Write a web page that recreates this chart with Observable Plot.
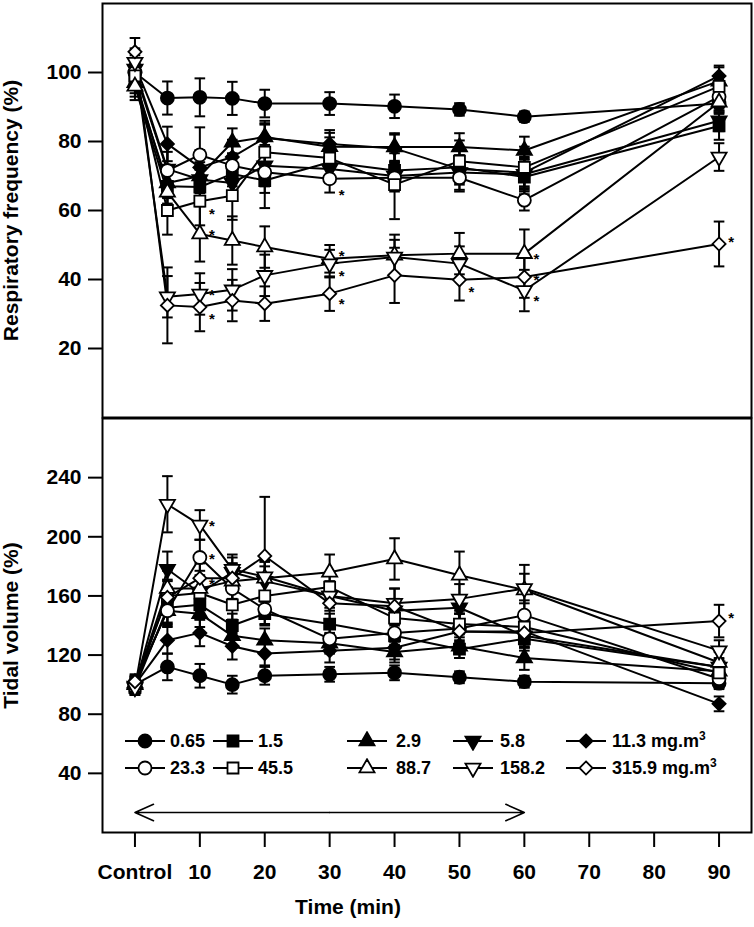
<!DOCTYPE html>
<html>
<head>
<meta charset="utf-8">
<script src="https://cdn.jsdelivr.net/npm/d3@7"></script>
<script src="https://cdn.jsdelivr.net/npm/@observablehq/plot@0.6"></script>
<style>
  body { margin: 0; background: #fff; font-family: "Liberation Sans", Arial, sans-serif; }
  #wrap { position: relative; width: 754px; height: 927px; overflow: hidden; }
  #wrap svg.plot-chart { display: block; }
  .lg { position: absolute; display: flex; align-items: center; height: 20px; }
  .lgt { position: absolute; font: bold 18px "Liberation Sans", Arial, sans-serif; line-height: 20px; white-space: nowrap; }
  .lgt sup { font-size: 12px; vertical-align: 7px; line-height: 0; }
</style>
</head>
<body>
<div id="wrap"></div>
<script>
// ---------------- DATA ----------------
const times = [0, 5, 10, 15, 20, 30, 40, 50, 60, 90];
const xTickValues = [0, 10, 20, 30, 40, 50, 60, 70, 80, 90];
const xTickLabels = ["Control", "10", "20", "30", "40", "50", "60", "70", "80", "90"];
const rfTicks = [20, 40, 60, 80, 100];
const tvTicks = [40, 80, 120, 160, 200, 240];
const concentrations = ["0.65", "1.5", "2.9", "5.8", "11.3", "23.3", "45.5", "88.7", "158.2", "315.9"];
const unitLabel = "mg.m";

// Respiratory frequency (% of control), mean
const rf065  = [100, 92.6, 92.8, 92.5, 91.0, 91.0, 90.2, 89.3, 87.2, 91.0];
const rf15   = [98, 67.0, 66.8, 70.6, 68.7, 74.0, 71.6, 72.5, 69.7, 84.5];
const rf29   = [97, 68.0, 70.0, 79.8, 81.3, 78.5, 78.4, 78.4, 77.4, 97.5];
const rf58   = [101, 72.0, 69.0, 68.0, 73.0, 72.0, 70.0, 71.0, 70.5, 86.0];
const rf113  = [102, 79.3, 72.5, 75.5, 81.0, 79.3, 78.0, 72.0, 71.0, 99.0];
const rf233  = [100, 71.6, 76.1, 73.0, 71.1, 69.2, 69.5, 69.5, 63.0, 93.0];
const rf455  = [99, 60.0, 62.7, 64.3, 76.9, 75.2, 67.5, 74.3, 72.5, 96.0];
const rf887  = [96, 65.3, 53.2, 51.3, 49.4, 46.0, 47.0, 47.5, 47.5, 91.4];
const rf1582 = [103, 35.0, 35.8, 37.0, 41.2, 44.6, 46.5, 44.6, 36.8, 75.5];
const rf3159 = [106, 32.5, 32.0, 33.9, 33.0, 35.9, 41.2, 39.9, 40.7, 50.3];

// Respiratory frequency, error bars
const rfErr065  = [4, 4.8, 5.5, 4.8, 4, 3.3, 3.4, 1.8, 1.5, 3];
const rfErr15   = [4, 5, 5, 6, 8, 5, 5, 5, 5, 4];
const rfErr29   = [4, 4, 5, 4, 4, 4, 4, 4, 4, 4];
const rfErr58   = [4, 5, 5, 5, 6, 4, 4, 5, 5, 3];
const rfErr113  = [4, 5, 5, 5, 5, 4, 4, 4, 4, 3];
const rfErr233  = [4, 8, 8, 6, 6, 4, 4, 4, 3, 4];
const rfErr455  = [4, 7, 7, 7, 8, 6, 10, 6, 6, 3];
const rfErr887  = [4, 6, 8, 7, 6, 4, 6, 6, 7, 3];
const rfErr1582 = [4, 6, 6, 6, 6, 4, 5, 5, 6, 4];
const rfErr3159 = [4, 11, 7, 6, 5, 5, 8, 6, 6, 6.5];

// Tidal volume (% of control), mean
const tv065  = [100, 112, 106, 100, 106, 107, 108, 105, 102, 101];
const tv15   = [98, 152, 154, 140, 148, 141, 133, 124, 131, 112];
const tv29   = [101, 150, 148, 133, 130, 128, 122, 126, 118, 109];
const tv58   = [99, 178, 162, 176, 170, 160, 150, 152, 133, 112];
const tv113  = [100, 130, 135, 126, 121, 123, 125, 136, 136, 87];
const tv233  = [101, 150, 186, 165, 151, 131, 135, 138, 147, 104];
const tv455  = [99, 160, 162, 154, 160, 166, 145, 141, 139, 108];
const tv887  = [100, 165, 165, 170, 172, 176, 185, 174, 164, 115];
const tv1582 = [98, 222, 208, 178, 173, 160, 155, 158, 165, 123];
const tv3159 = [102, 159, 172, 172, 187, 155, 153, 136, 135, 143];

// Tidal volume, error bars
const tvErr065  = [5, 9, 8, 6, 6, 5, 5, 4, 4, 4];
const tvErr15   = [5, 10, 10, 8, 8, 7, 7, 6, 6, 5];
const tvErr29   = [5, 9, 9, 8, 8, 7, 7, 8, 8, 5];
const tvErr58   = [5, 12, 10, 10, 10, 8, 8, 8, 8, 6];
const tvErr113  = [5, 9, 9, 9, 8, 8, 8, 7, 7, 5];
const tvErr233  = [5, 10, 12, 10, 10, 8, 8, 10, 10, 6];
const tvErr455  = [5, 10, 10, 10, 10, 9, 9, 9, 9, 6];
const tvErr887  = [5, 12, 12, 12, 12, 12, 14, 16, 17, 7];
const tvErr1582 = [5, 19, 10, 10, 10, 10, 10, 10, 10, 7];
const tvErr3159 = [5, 12, 10, 10, 40, 12, 12, 12, 12, 11];

// significance markers [concentration, time]
const rfStars = [["88.7", 10], ["45.5", 10], ["158.2", 10], ["315.9", 10], ["23.3", 30], ["88.7", 30], ["158.2", 30], ["315.9", 30], ["315.9", 50], ["88.7", 60], ["315.9", 60], ["158.2", 60], ["315.9", 90]];
const tvStars = [["158.2", 10], ["23.3", 10], ["315.9", 10], ["315.9", 90]];

// exposure period (min)
const exposure = [0, 60];

// ---------------- STYLE / LAYOUT ----------------
// vertical pixel offsets of each significance star relative to its marker
const rfStarOffset = [-3, 9, -3, 8, 12, -7, 9, 7, 8, 2, -1, 7, -6];
const tvStarOffset = [-3, -2, 2, -7];

const rfSeries = [rf065, rf15, rf29, rf58, rf113, rf233, rf455, rf887, rf1582, rf3159];
const rfErrSeries = [rfErr065, rfErr15, rfErr29, rfErr58, rfErr113, rfErr233, rfErr455, rfErr887, rfErr1582, rfErr3159];
const tvSeries = [tv065, tv15, tv29, tv58, tv113, tv233, tv455, tv887, tv1582, tv3159];
const tvErrSeries = [tvErr065, tvErr15, tvErr29, tvErr58, tvErr113, tvErr233, tvErr455, tvErr887, tvErr1582, tvErr3159];

const markerStyles = [
  {symbol: "circle", fill: "black", r: 6.5, rotate: 0},
  {symbol: "square", fill: "black", r: 6.2, rotate: 0},
  {symbol: "triangle", fill: "black", r: 5.6, rotate: 0},
  {symbol: "triangle", fill: "black", r: 5.6, rotate: 180},
  {symbol: "diamond2", fill: "black", r: 5.9, rotate: 0},
  {symbol: "circle", fill: "white", r: 6.5, rotate: 0},
  {symbol: "square", fill: "white", r: 6.2, rotate: 0},
  {symbol: "triangle", fill: "white", r: 5.6, rotate: 0},
  {symbol: "triangle", fill: "white", r: 5.6, rotate: 180},
  {symbol: "diamond2", fill: "white", r: 5.9, rotate: 0}
];

const rows = [];
concentrations.forEach((c, i) => times.forEach((t, j) => rows.push({
  series: c, idx: i, time: t,
  rf: rfSeries[i][j], rfErr: rfErrSeries[i][j],
  tv: tvSeries[i][j], tvErr: tvErrSeries[i][j]
})));
const findRow = (c, t) => rows.find(d => d.series === c && d.time === t);
const rfStarRows = rfStars.map(([c, t], k) => ({...findRow(c, t), off: rfStarOffset[k]}));
const tvStarRows = tvStars.map(([c, t], k) => ({...findRow(c, t), off: tvStarOffset[k]}));

const capSymbol = {
  draw(ctx, size) { const w = Math.sqrt(size) / 2; ctx.moveTo(-w, 0); ctx.lineTo(w, 0); }
};

const FONT = "Liberation Sans, Arial, sans-serif";
const xDomain = [-5, 95];
const plotStyle = {fontFamily: FONT, fontSize: "21px", fontWeight: "bold", background: "white", color: "black", overflow: "visible"};

function seriesMarks(field, errField) {
  const marks = [
    Plot.line(rows, {x: "time", y: field, z: "series", stroke: "black", strokeWidth: 2}),
    Plot.ruleX(rows, {x: "time", y1: d => d[field] - d[errField], y2: d => d[field] + d[errField], stroke: "black", strokeWidth: 2}),
    Plot.dot(rows, {x: "time", y: d => d[field] + d[errField], symbol: capSymbol, r: 6, stroke: "black", strokeWidth: 2, fill: "none"}),
    Plot.dot(rows, {x: "time", y: d => d[field] - d[errField], symbol: capSymbol, r: 6, stroke: "black", strokeWidth: 2, fill: "none"})
  ];
  markerStyles.forEach((s, i) => {
    marks.push(Plot.dot(rows.filter(d => d.idx === i), {
      x: "time", y: field, symbol: s.symbol, r: s.r, rotate: s.rotate,
      fill: s.fill, stroke: "black", strokeWidth: 1.8
    }));
  });
  return marks;
}

// one text mark per star so that each gets its own vertical offset
function starMarks(starRows, field) {
  return starRows.map(d => Plot.text([d], {x: "time", y: field, text: () => "*", dx: 12, dy: d.off + 4, fontSize: 15, fontWeight: "bold"}));
}

// ---------------- TOP PANEL ----------------
const topChart = Plot.plot({
  width: 754, height: 418,
  marginLeft: 102, marginRight: 3, marginTop: 3, marginBottom: 1,
  style: plotStyle,
  x: {domain: xDomain, axis: null},
  y: {domain: [0, 120]},
  marks: [
    Plot.axisY({ticks: rfTicks, tickSize: 14, tickPadding: 7, strokeWidth: 2,
      label: "Respiratory frequency (%)", labelAnchor: "center", labelArrow: "none", labelOffset: 99}),
    ...seriesMarks("rf", "rfErr"),
    ...starMarks(rfStarRows, "rf"),
    Plot.frame({stroke: "black", strokeWidth: 2})
  ]
});

// ---------------- BOTTOM PANEL ----------------
const bottomChart = Plot.plot({
  width: 754, height: 509,
  marginLeft: 102, marginRight: 3, marginTop: 0, marginBottom: 95,
  style: plotStyle,
  x: {domain: xDomain},
  y: {domain: [0, 280]},
  marks: [
    Plot.axisY({ticks: tvTicks, tickSize: 14, tickPadding: 7, strokeWidth: 2,
      label: "Tidal volume (%)", labelAnchor: "center", labelArrow: "none", labelOffset: 99}),
    Plot.axisX({ticks: xTickValues, tickFormat: d => xTickLabels[xTickValues.indexOf(d)],
      tickSize: 15, tickPadding: 17, strokeWidth: 2, label: null}),
    Plot.text(["Time (min)"], {frameAnchor: "bottom", dx: -79, dy: 75, fontSize: 21, fontWeight: "bold", lineAnchor: "middle"}),
    ...seriesMarks("tv", "tvErr"),
    ...starMarks(tvStarRows, "tv"),
    Plot.arrow([{a: d3.mean(exposure), b: exposure[0]}, {a: d3.mean(exposure), b: exposure[1]}], {
      x1: "a", x2: "b", y1: () => 13.5, y2: () => 13.5,
      stroke: "black", strokeWidth: 1.6, headLength: 19, headAngle: 48
    }),
    Plot.frame({stroke: "black", strokeWidth: 2})
  ]
});

topChart.classList.add("plot-chart");
bottomChart.classList.add("plot-chart");
const wrap = document.getElementById("wrap");
wrap.appendChild(topChart);
wrap.appendChild(bottomChart);

// ---------------- LEGEND (inside bottom panel) ----------------
const legendMarkerX = [145, 233, 367, 473, 586];
const legendTextX = [170, 258, 396, 500, 612];
const legendRowY = [741, 768];
const symbolTypes = {circle: d3.symbolCircle, square: d3.symbolSquare, triangle: d3.symbolTriangle, diamond2: d3.symbolDiamond2};
concentrations.forEach((c, i) => {
  const row = Math.floor(i / 5), col = i % 5;
  const s = markerStyles[i];
  const cy = legendRowY[row];
  const cx = legendMarkerX[col];
  const size = s.r * s.r * Math.PI;
  const path = d3.symbol(symbolTypes[s.symbol], size)();
  const div = document.createElement("div");
  div.className = "lg";
  div.style.left = (cx - 22) + "px";
  div.style.top = (cy - 10) + "px";
  div.innerHTML = `<svg width="44" height="20" viewBox="-22 -10 44 20"><line x1="-20" x2="20" y1="0" y2="0" stroke="black" stroke-width="2"/><path d="${path}" transform="rotate(${s.rotate})" fill="${s.fill}" stroke="black" stroke-width="1.8"/></svg>`;
  wrap.appendChild(div);
  const t = document.createElement("div");
  t.className = "lgt";
  t.style.left = legendTextX[col] + "px";
  t.style.top = (cy - 10) + "px";
  t.innerHTML = c + (col === 4 ? ` ${unitLabel}<sup>3</sup>` : "");
  wrap.appendChild(t);
});
</script>
</body>
</html>
